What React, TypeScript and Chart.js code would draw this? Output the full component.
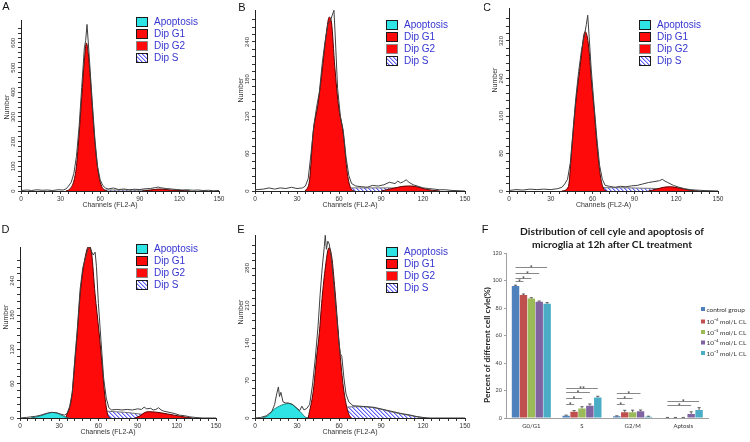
import React, { useEffect, useRef } from 'react';
import { Chart, registerables } from 'chart.js';

Chart.register(...registerables);

const FONT = '"Liberation Sans", Arial, sans-serif';
const FFONT = 'Lato, "Open Sans", "DejaVu Sans", sans-serif';
Chart.defaults.font.family = FONT;

type Pt = [number, number];

// ---------------- Flow cytometry histograms: [channel, number] ----------------
const HIST_LEGEND = ['Apoptosis', 'Dip G1', 'Dip G2', 'Dip S'];
const X_TICKS = [0, 30, 60, 90, 120, 150];

// Panel A
const A_TOTAL: Pt[] = [[0,2],[5,4],[8,2],[12,5],[16,3],[20,4],[24,2],[28,5],[32,4],[34,8],[36,20],[38,35],[40,70],[42,140],[44,260],[46,420],[48,580],[49,610],[50,675],[51,600],[52,520],[54,360],[56,210],[58,100],[60,45],[62,22],[64,12],[66,8],[70,12],[74,6],[78,8],[82,5],[86,7],[90,6],[94,9],[98,10],[102,14],[104,16],[106,13],[110,10],[114,8],[118,6],[122,4],[126,5],[130,3],[134,4],[138,2],[142,3],[146,1],[150,2]];
const A_G1: Pt[] = [[34,0],[37,8],[40,40],[42,100],[44,230],[46,380],[48,530],[49.5,600],[51,555],[53,420],[55,265],[57,140],[59,60],[61,20],[63,5],[65,0]];
const A_G2: Pt[] = [[92,0],[97,3],[101,6],[105,8],[109,6],[114,4],[119,3],[124,1],[128,0]];
const A_S: Pt[] = [[36,0],[42,3],[60,4],[80,4],[100,3],[110,2],[120,1],[128,0]];

// Panel B
const B_TOTAL: Pt[] = [[0,2],[6,3],[10,5],[14,3],[18,5],[22,4],[26,6],[30,4],[34,5],[36,8],[38,20],[40,60],[42,105],[44,135],[46,160],[48,205],[50,240],[52,268],[54,275],[55,282],[56.4,291],[57.5,240],[59,165],[61,120],[63,98],[65,55],[67,25],[69,12],[72,8],[76,7],[80,6],[84,9],[88,8],[92,10],[96,14],[100,12],[102,16],[104,13],[106,15],[108,18],[110,14],[113,10],[116,8],[120,5],[124,4],[128,3],[132,2],[136,2],[140,1],[150,0]];
const B_G1: Pt[] = [[36,0],[39,18],[41.5,93],[45,140],[48.3,200],[51,255],[53,280],[54.6,272],[57,200],[59.5,140],[63,93],[66,28],[68.5,4],[71,0]];
const B_G2: Pt[] = [[90,0],[96,3],[102,6],[108,8],[112,8],[117,6],[122,3],[127,1],[132,0]];
const B_S: Pt[] = [[38,0],[45,3],[60,5],[80,5],[95,5],[105,4],[115,2],[125,0]];

// Panel C
const C_TOTAL: Pt[] = [[0,1],[5,3],[10,2],[15,4],[20,3],[25,4],[30,3],[35,5],[38,8],[40,15],[42,25],[44,60],[46,130],[48,200],[50,255],[52,300],[54,330],[55.5,355],[56.5,375],[57.5,330],[59,260],[61,185],[63,115],[65,55],[67,25],[69,12],[72,10],[76,8],[80,10],[84,9],[88,11],[92,12],[96,15],[100,18],[104,20],[108,22],[110,25],[112,21],[114,18],[118,12],[122,8],[126,5],[130,3],[134,2],[140,1],[150,0]];
const C_G1: Pt[] = [[38,0],[42.6,9],[45,88],[47.4,173],[51,265],[54.6,340],[56.9,315],[59.3,230],[61.2,170],[63,102],[65.3,38],[67.7,6],[70,0]];
const C_G2: Pt[] = [[100,0],[106,4],[111,8],[116,9],[121,7],[126,4],[131,1],[136,0]];
const C_S: Pt[] = [[40,0],[48,4],[60,7],[80,7],[95,6],[110,5],[120,3],[128,0]];

// Panel D
const D_TOTAL: Pt[] = [[0,0],[5,1],[8,2],[12,3],[16,5],[20,8],[24,10],[28,9],[31,7],[34,5],[36,8],[38,20],[40,45],[42,105],[44,160],[46,225],[48,262],[50,280],[52,296],[53,300],[55,290],[56,285],[57.5,290],[58.5,265],[60,200],[62,135],[64,70],[66,35],[68,18],[70,14],[74,15],[78,14],[82,15],[86,14],[90,16],[93,15],[95,19],[97,16],[100,17],[102,14],[104,15],[106,18],[108,14],[110,12],[114,10],[118,8],[122,5],[126,4],[130,2],[134,1],[140,0],[150,0]];
const D_G1: Pt[] = [[35,0],[39.6,37],[42.1,101],[43.9,150],[45.9,212],[49,270],[52.8,301],[54.8,288],[57.4,218],[60.5,150],[62.5,101],[65,37],[67,7],[69,0]];
const D_G2: Pt[] = [[88,0],[92,4],[95,9],[98,11],[103,10.5],[108,9],[113,7],[118,5],[123,3],[128,1],[132,0]];
const D_S: Pt[] = [[34,0],[40,3],[46,6],[52,9],[58,11],[65,12],[72,11],[80,10],[88,8],[95,6],[102,4],[110,2],[118,0]];
const D_AP: Pt[] = [[8,0],[12,1.5],[16,4],[20,7],[24,9.5],[27,9.5],[30,7],[33,3.5],[36,0.5],[38,0]];

// Panel E
const E_TOTAL: Pt[] = [[0,0],[4,1],[8,4],[12,12],[14,25],[15.5,45],[16.7,58],[17.5,40],[18.5,48],[20,30],[22,28],[24,28],[27,25],[30,18],[32,14],[33.5,22],[35,15],[37,18],[39,25],[41,60],[43,110],[45,170],[46.5,230],[48,280],[49.5,320],[50.2,341],[51,315],[52,330],[53,325],[54.5,300],[56,260],[58,200],[60,140],[61,120],[62,115],[63.5,75],[65,45],[67,30],[70,23],[75,22],[80,21],[85,20],[90,17],[95,14],[100,11],[105,8],[110,6],[115,3],[120,1],[125,0],[150,0]];
const E_G1: Pt[] = [[38,0],[41.7,52],[44,114],[46,160],[47.6,214],[50,276],[52.9,318],[54.8,301],[57.1,239],[58.8,183],[60.7,121],[63.1,58],[65.5,21],[67.5,4],[69,0]];
const E_S: Pt[] = [[34,0],[40,2],[46,7],[52,13],[58,18],[64,20],[70,21],[78,21],[85,19],[92,15],[98,11],[104,8],[110,5],[116,2],[121,0]];
const E_AP: Pt[] = [[5,0],[9,4],[13,15],[16,20],[19,24],[23.8,27],[26,26],[28.6,21],[31,15],[33.3,9],[35.7,2],[37,0]];

// ---------------- Panel F: bar chart ----------------
const F_TITLE = ['Distribution of cell cyle and apoptosis of', 'microglia at 12h after CL treatment'];
const F_YTITLE = 'Percent of different cell cyle(%)';
const PHASES = ['G0/G1', 'S', 'G2/M', 'Aptosis'];
const GROUPS = ['control group', '10⁻⁶ mol/L CL', '10⁻⁵ mol/L CL', '10⁻⁴ mol/L CL', '10⁻³ mol/L CL'];
const CONTROL = [96, 1.7, 1.2, 0.3];
const CL_1E6 = [89.4, 4.6, 4.1, 0.3];
const CL_1E5 = [87.0, 7.0, 4.2, 0.3];
const CL_1E4 = [84.6, 9.0, 5.0, 2.9];
const CL_1E3 = [83.1, 15.0, 1.0, 5.8];
const ERR_CONTROL = [0.6, 0.4, 0.4, 0.1];
const ERR_1E6 = [0.8, 0.8, 1.5, 0.1];
const ERR_1E5 = [0.5, 1.2, 1.5, 0.1];
const ERR_1E4 = [0.5, 1.2, 0.8, 1.6];
const ERR_1E3 = [0.8, 0.8, 0.3, 1.7];
const SIG_PHASE = [0, 0, 0, 0, 1, 1, 1, 1, 2, 2, 2, 3, 3];
const SIG_TO = [1, 2, 3, 4, 1, 2, 3, 4, 1, 2, 3, 3, 4];
const SIG_LEVEL = [99.5, 102, 105.5, 110, 10.2, 14.5, 18.9, 22, 10.2, 14.8, 18.4, 9.5, 12.6];
const SIG_MARK = ['*', '*', '*', '*', '*', '*', '*', '**', '*', '*', '*', '*', '*'];
const BAR_COLORS = ['#4F81BD', '#C0504D', '#9BBB59', '#8064A2', '#4BACC6'];

const RED = '#ff0a0a';
const CYAN = '#2ee4e4';
const LEG_TEXT = '#3535cf';
const HATCH_LINE = 'rgb(95,95,250)';
const HATCH_SOFT = 'rgb(185,185,250)';

type Panel = {
  letter: string; lx: number; ly: number;
  cx: number; cy: number; cw: number; ch: number;
  pl: number; pr: number; pt: number; pb: number;
  yMax: number; yStep: number; yTop: number;
  gx: number; gy: number; numY: number;
  total: Pt[]; g1: Pt[]; s: Pt[]; g2?: Pt[]; ap?: Pt[];
};

const PANELS: Panel[] = [
  { letter: 'A', lx: 6, ly: 7, cx: 0, cy: 0, cw: 236, ch: 215, pl: 21, pr: 219, pt: 20, pb: 191, yMax: 693, yStep: 100, yTop: 600, gx: 136, gy: 17, numY: 107, total: A_TOTAL, g1: A_G1, g2: A_G2, s: A_S },
  { letter: 'B', lx: 242, ly: 7.5, cx: 236, cy: 0, cw: 248, ch: 215, pl: 255, pr: 465, pt: 10, pb: 191, yMax: 291.5, yStep: 60, yTop: 240, gx: 386, gy: 20, numY: 90, total: B_TOTAL, g1: B_G1, g2: B_G2, s: B_S },
  { letter: 'C', lx: 487, ly: 8, cx: 484, cy: 0, cw: 266, ch: 215, pl: 509, pr: 718, pt: 8, pb: 191, yMax: 390.4, yStep: 80, yTop: 320, gx: 639, gy: 20, numY: 80, total: C_TOTAL, g1: C_G1, g2: C_G2, s: C_S },
  { letter: 'D', lx: 5.5, ly: 230, cx: 0, cy: 215, cw: 236, ch: 227, pl: 20, pr: 216, pt: 247, pb: 418, yMax: 299, yStep: 60, yTop: 240, gx: 136, gy: 244, numY: 317, total: D_TOTAL, g1: D_G1, g2: D_G2, s: D_S, ap: D_AP },
  { letter: 'E', lx: 241, ly: 230, cx: 236, cy: 215, cw: 240, ch: 227, pl: 255, pr: 465, pt: 235, pb: 418, yMax: 341.6, yStep: 70, yTop: 280, gx: 386, gy: 247, numY: 312, total: E_TOTAL, g1: E_G1, s: E_S, ap: E_AP },
];

function makeHatch(ctx: CanvasRenderingContext2D) {
  const c = document.createElement('canvas');
  c.width = 4; c.height = 4;
  const g = c.getContext('2d')!;
  g.fillStyle = '#ffffff';
  g.fillRect(0, 0, 4, 4);
  for (let i = 0; i < 4; i++) {
    g.fillStyle = HATCH_LINE;
    g.fillRect(i, i, 1, 1);
    g.fillStyle = HATCH_SOFT;
    g.fillRect((i + 1) % 4, i, 1, 1);
  }
  return ctx.createPattern(c, 'repeat')!;
}

function Histogram({ p }: { p: Panel }) {
  const ref = useRef<HTMLCanvasElement>(null);
  useEffect(() => {
    const cv = ref.current!;
    const ctx = cv.getContext('2d')!;
    const hatch = makeHatch(ctx);
    const L = p.pl - p.cx, R = p.pr - p.cx, T = p.pt - p.cy, B = p.pb - p.cy;
    const xy = (a: Pt[]) => a.map(([x, y]) => ({ x, y }));
    const area = (label: string, data: Pt[], bg: any, border: string) => ({
      label, data: xy(data), backgroundColor: bg, borderColor: border, borderWidth: 1,
      fill: 'origin', pointRadius: 0, cubicInterpolationMode: 'monotone',
    });
    const datasets: any[] = [
      { label: 'Data', data: xy(p.total), borderColor: '#404040', borderWidth: 1, fill: false, pointRadius: 0, tension: 0 },
    ];
    if (p.ap) datasets.push(area('Apoptosis', p.ap, CYAN, '#167c7c'));
    datasets.push(area('Dip G1', p.g1, RED, '#5a0000'));
    if (p.g2) datasets.push(area('Dip G2', p.g2, RED, '#5a0000'));
    datasets.push(area('Dip S', p.s, hatch, '#707070'));
    const yMinor = p.yStep / 5;

    const decor = {
      id: 'decor',
      afterDraw(chart: any) {
        const c = chart.ctx as CanvasRenderingContext2D;
        const ys = chart.scales.y;
        c.save();
        c.fillStyle = '#333';
        c.font = `6px ${FONT}`;
        c.textAlign = 'center';
        c.textBaseline = 'middle';
        for (let v = 0; v <= p.yTop; v += p.yStep) {
          const py = ys.getPixelForValue(v);
          c.save();
          c.translate(L - 8, py);
          c.rotate(-Math.PI / 2);
          c.fillText(String(v), 0, 0);
          c.restore();
        }
        c.font = `7px ${FONT}`;
        c.save();
        c.translate(L - 14, p.numY - p.cy);
        c.rotate(-Math.PI / 2);
        c.fillText('Number', 0, 0);
        c.restore();
        c.fillText('Channels (FL2-A)', (L + R) / 2 - 10, B + 14);
        c.fillStyle = '#111';
        c.font = `11px ${FONT}`;
        c.fillText(p.letter, p.lx - p.cx, p.ly - p.cy);
        const fills = [CYAN, RED, RED, hatch];
        const borders = ['#1a1a1a', '#1a1a1a', '#8a8a8a', '#1a1a1a'];
        c.font = `10px ${FONT}`;
        c.textAlign = 'left';
        HIST_LEGEND.forEach((lab, i) => {
          const bx = p.gx - p.cx, by = p.gy - p.cy + i * 12;
          c.fillStyle = fills[i] as any;
          c.fillRect(bx, by, 12, 10);
          c.strokeStyle = borders[i];
          c.lineWidth = 1;
          c.strokeRect(bx + 0.5, by + 0.5, 11, 9);
          c.fillStyle = LEG_TEXT;
          c.fillText(lab, bx + 18, by + 5.5);
        });
        c.restore();
      },
    };

    const chart = new Chart(cv, {
      type: 'line',
      data: { datasets },
      options: {
        animation: false,
        responsive: false,
        events: [],
        layout: { padding: { left: 0, top: T, right: p.cw - R, bottom: 0 } },
        plugins: { legend: { display: false }, tooltip: { enabled: false }, title: { display: false } },
        scales: {
          x: {
            type: 'linear', min: 0, max: 150,
            afterFit: (s: any) => { s.height = p.ch - B; },
            ticks: {
              stepSize: 6, autoSkip: false, maxRotation: 0, minRotation: 0, padding: 1,
              color: '#333', font: { size: 6.5, family: FONT },
              callback: (v: any) => (X_TICKS.includes(Number(v)) ? String(v) : ''),
            },
            grid: { drawOnChartArea: false, drawTicks: true, tickLength: 3, color: '#333', lineWidth: 1 },
            border: { display: true, color: '#222', width: 1 },
          },
          y: {
            type: 'linear', min: 0, max: p.yMax,
            afterFit: (s: any) => { s.width = L; },
            afterBuildTicks: (s: any) => {
              s.ticks = s.ticks.filter((t: any) => Math.abs(t.value / yMinor - Math.round(t.value / yMinor)) < 1e-6);
            },
            ticks: { stepSize: yMinor, display: false, autoSkip: false },
            grid: { drawOnChartArea: false, drawTicks: true, tickLength: 3, color: '#333', lineWidth: 1 },
            border: { display: true, color: '#222', width: 1 },
          },
        },
      } as any,
      plugins: [decor],
    });
    return () => chart.destroy();
  }, []);
  return (
    <canvas
      ref={ref}
      width={p.cw}
      height={p.ch}
      style={{ position: 'absolute', left: p.cx, top: p.cy, width: p.cw, height: p.ch }}
    />
  );
}

function BarPanel() {
  const ref = useRef<HTMLCanvasElement>(null);
  const cx = 470, cy = 215, cw = 280, ch = 227;
  useEffect(() => {
    const cv = ref.current!;
    const series = [CONTROL, CL_1E6, CL_1E5, CL_1E4, CL_1E3];
    const errs = [ERR_CONTROL, ERR_1E6, ERR_1E5, ERR_1E4, ERR_1E3];
    const L = 506 - cx, R = 708.6 - cx, T = 253 - cy, B = 418 - cy;

    const decor = {
      id: 'fdecor',
      afterDatasetsDraw(chart: any) {
        const c = chart.ctx as CanvasRenderingContext2D;
        const ys = chart.scales.y;
        c.save();
        series.forEach((vals, i) => {
          const meta = chart.getDatasetMeta(i);
          meta.data.forEach((el: any, j: number) => {
            const top = ys.getPixelForValue(vals[j] + errs[i][j]);
            c.strokeStyle = '#3a3a3a';
            c.lineWidth = 0.8;
            c.beginPath();
            c.moveTo(el.x, el.y);
            c.lineTo(el.x, top);
            c.moveTo(el.x - 1.6, top);
            c.lineTo(el.x + 1.6, top);
            c.stroke();
          });
        });
        c.font = `7px ${FFONT}`;
        c.textAlign = 'center';
        c.textBaseline = 'alphabetic';
        SIG_PHASE.forEach((ph, k) => {
          const x1 = chart.getDatasetMeta(0).data[ph].x;
          const x2 = chart.getDatasetMeta(SIG_TO[k]).data[ph].x;
          const y = Math.round(ys.getPixelForValue(SIG_LEVEL[k])) + 0.5;
          c.strokeStyle = '#6a6a6a';
          c.lineWidth = 0.8;
          c.beginPath();
          c.moveTo(x1, y);
          c.lineTo(x2, y);
          c.stroke();
          c.fillStyle = '#333';
          c.fillText(SIG_MARK[k], (x1 + x2) / 2, y + 3);
        });
        c.restore();
      },
      afterDraw(chart: any) {
        const c = chart.ctx as CanvasRenderingContext2D;
        c.save();
        c.fillStyle = '#1a1a1a';
        c.textAlign = 'center';
        c.textBaseline = 'middle';
        c.font = `bold 10px ${FFONT}`;
        const w1 = c.measureText(F_TITLE[0]).width;
        const fs = (10 * 184) / w1;
        c.font = `bold ${fs}px ${FFONT}`;
        c.fillText(F_TITLE[0], 612 - cx, 231.5 - cy);
        c.fillText(F_TITLE[1], 612 - cx, 244.5 - cy);
        c.font = `bold 10px ${FFONT}`;
        const wy = c.measureText(F_YTITLE).width;
        c.font = `bold ${(10 * 116) / wy}px ${FFONT}`;
        c.save();
        c.translate(487 - cx, 345 - cy);
        c.rotate(-Math.PI / 2);
        c.fillStyle = '#222';
        c.fillText(F_YTITLE, 0, 0);
        c.restore();
        c.fillStyle = '#111';
        c.font = `11px ${FONT}`;
        c.fillText('F', 485 - cx, 230 - cy);
        const rows = [309, 321.5, 332, 342.5, 353];
        c.textAlign = 'left';
        c.font = `6.5px ${FFONT}`;
        GROUPS.forEach((g, i) => {
          const y = rows[i] - cy;
          c.fillStyle = BAR_COLORS[i];
          c.fillRect(701 - cx, y - 2, 4, 4);
          c.fillStyle = '#333';
          c.fillText(g, 706.5 - cx, y + 0.5);
        });
        c.restore();
      },
    };

    const chart = new Chart(cv, {
      type: 'bar',
      data: {
        labels: PHASES,
        datasets: GROUPS.map((g, i) => ({
          label: g, data: series[i], backgroundColor: BAR_COLORS[i], borderWidth: 0,
          categoryPercentage: 0.78, barPercentage: 0.94,
        })),
      },
      options: {
        animation: false,
        responsive: false,
        events: [],
        layout: { padding: { left: 0, top: T, right: cw - R, bottom: 0 } },
        plugins: { legend: { display: false }, tooltip: { enabled: false }, title: { display: false } },
        scales: {
          x: {
            afterFit: (s: any) => { s.height = ch - B; },
            grid: { display: false, drawTicks: false, tickLength: 0 },
            border: { display: true, color: '#a0a0a0', width: 1 },
            ticks: { color: '#333', font: { size: 6, family: FFONT }, padding: 4, maxRotation: 0 },
          },
          y: {
            min: 0, max: 120,
            afterFit: (s: any) => { s.width = L; },
            ticks: { stepSize: 20, color: '#444', font: { size: 5.5, family: FFONT }, padding: 2 },
            grid: { drawOnChartArea: false, drawTicks: true, tickLength: 2, color: '#a0a0a0' },
            border: { display: true, color: '#a0a0a0', width: 1 },
          },
        },
      } as any,
      plugins: [decor],
    });
    return () => chart.destroy();
  }, []);
  return (
    <canvas
      ref={ref}
      width={cw}
      height={ch}
      style={{ position: 'absolute', left: cx, top: cy, width: cw, height: ch }}
    />
  );
}

export default function App() {
  return (
    <div style={{ position: 'absolute', left: 0, top: 0, width: 750, height: 442, background: '#fff', overflow: 'hidden' }}>
      {PANELS.map((p) => (
        <Histogram key={p.letter} p={p} />
      ))}
      <BarPanel />
    </div>
  );
}
